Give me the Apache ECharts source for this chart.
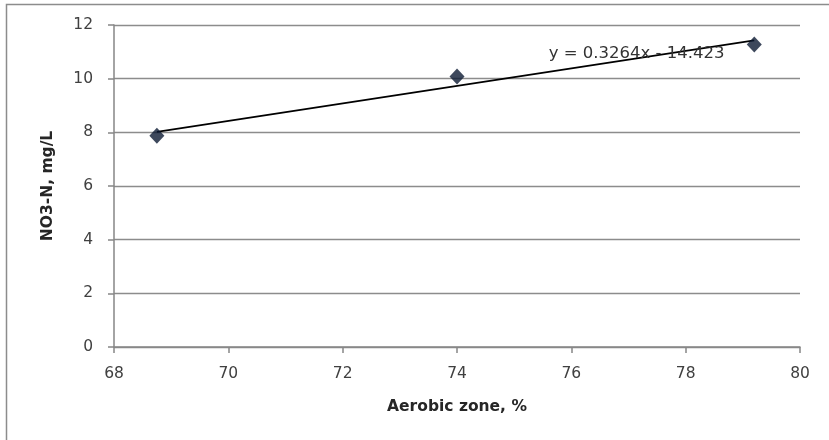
<!DOCTYPE html>
<html><head><meta charset="utf-8">
<script src="https://cdn.jsdelivr.net/npm/echarts@6/dist/echarts.min.js"></script>
<style>html,body{margin:0;padding:0;background:#fff}#c{width:829px;height:440px}</style>
</head><body><div id="c"></div>
<script>
const xValues = [68.75, 74.0, 79.2];
const yValues = [7.87, 10.08, 11.27];
const slope = 0.3264, intercept = -14.423;
const trendX = [68.75, 79.2];
const equationText = 'y = 0.3264x - 14.423';

const chart = echarts.init(document.getElementById('c'), null, {renderer:'canvas'});
const font = 'DejaVu Sans, sans-serif';
chart.setOption({
  animation:false,
  backgroundColor:'#fff',
  grid:{left:114,right:29,top:25,bottom:93},
  graphic:[{type:'rect',shape:{x:6.5,y:4.5,width:900,height:500},style:{fill:null,stroke:'#8c8c8c',lineWidth:1.5},z:-1}],
  xAxis:{type:'value',min:68,max:80,interval:2,
    name:'Aerobic zone, %',nameLocation:'middle',nameGap:52,
    nameTextStyle:{fontFamily:font,fontWeight:'bold',fontSize:15.5,color:'#262626'},
    axisLine:{lineStyle:{color:'#868686',width:1.5}},
    axisTick:{show:true,length:6,lineStyle:{color:'#868686',width:1.5}},
    axisLabel:{fontFamily:font,fontSize:15.5,color:'#404040',margin:19},
    splitLine:{show:false}},
  yAxis:{type:'value',min:0,max:12,interval:2,
    name:'NO3-N, mg/L',nameLocation:'middle',nameGap:58,
    nameTextStyle:{fontFamily:font,fontWeight:'bold',fontSize:15.5,color:'#262626'},
    axisLine:{show:true,lineStyle:{color:'#868686',width:1.5}},
    axisTick:{show:true,length:6,lineStyle:{color:'#868686',width:1.5}},
    axisLabel:{fontFamily:font,fontSize:15.5,color:'#404040',margin:21},
    splitLine:{show:true,lineStyle:{color:'#8c8c8c',width:1.3}}},
  series:[
    {type:'line',data:trendX.map(x=>[x,slope*x+intercept]),showSymbol:false,symbol:'none',
     lineStyle:{color:'#000',width:1.7},z:3,
     markPoint:{symbol:'rect',symbolSize:0,data:[{coord:[77.14,10.93],label:{show:true,formatter:equationText,fontFamily:font,fontSize:16.5,color:'#333'}}]}},
    {type:'scatter',data:xValues.map((x,i)=>[x,yValues[i]]),symbol:'diamond',symbolSize:[15,16],
     itemStyle:{color:'#0d1a33'},z:4}
  ]
});
</script></body></html>
